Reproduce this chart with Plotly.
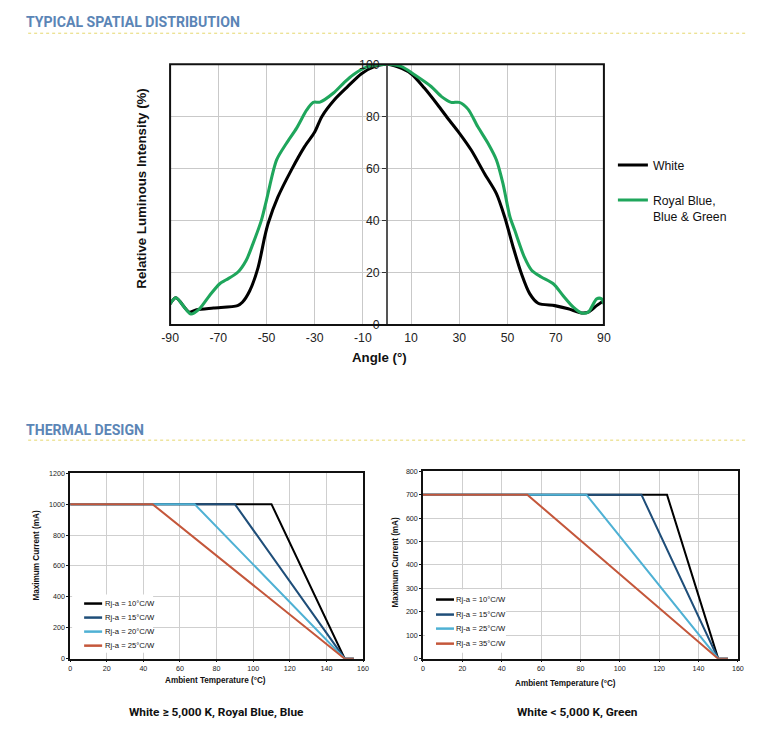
import plotly.graph_objects as go

# ---------------- data ----------------
white_angle = [-90, -87.6, -82, -79, -72, -62, -60, -57, -53.5, -50.7, -49.3, -45.3, -39.7, -34.2, -30, -27,
               -21.8, -16.25, -10.6, -5, 0, 4.4, 10, 15.5, 21, 25.2, 30, 35, 40.5, 45.4, 48.8, 52.3, 55.8,
               59.2, 62.7, 69.6, 75.2, 80.7, 83.5, 87, 90]
white_int = [8, 10.4, 4.9, 5.8, 6.5, 7.4, 8.7, 13, 22, 34, 39, 49, 59.4, 68.4, 74, 80,
             86.4, 91.5, 96.4, 99.2, 100, 99, 96.4, 90.9, 84.5, 79.3, 73.6, 67, 58, 50.4, 41.5, 30, 19.6,
             12, 8.3, 7.4, 6.2, 4.6, 4.9, 7.4, 9.4]

green_angle = [-90, -87.6, -81.4, -77.8, -73.6, -69.4, -66.7, -61.8, -58.4, -55.6, -52.1, -50, -45.8, -41.7,
               -37.5, -33.3, -30.6, -27.8, -22.2, -18, -14, -8.3, -3.8, 0, 5.8, 11.4, 18.3, 22.5, 26.6, 30,
               33.6, 37.7, 41.9, 45.4, 48.1, 51, 53, 57, 60, 64, 69, 73, 77.3, 80.7, 83.5, 87, 89, 90]
green_int = [8, 10.4, 4.2, 6.2, 11.3, 15.8, 17.3, 20.3, 24.8, 31.2, 40.2, 47.9, 63.3, 69.7,
             75.5, 82.5, 85.4, 85.5, 89, 92.8, 96, 99, 99.7, 100, 99.2, 96, 91.5, 87.7, 85.4, 85.4,
             82.8, 76, 69.7, 63.3, 54.3, 41.5, 36.3, 26, 21, 18.4, 15.8, 11.3, 6.8, 4.6, 4.9, 10, 10, 8]

angle_ticks = [-90, -70, -50, -30, -10, 10, 30, 50, 70, 90]
angle_tick_labels = ["-90", "-70", "-50", "-30", "-10", "10", "30", "50", "70", "90"]

spatial_names = ["White", "Royal Blue,<br>Blue & Green"]
spatial_colors = ["#000000", "#1fa65c"]

# thermal design, left (White >= 5,000 K, Royal Blue, Blue)
left_labels = ["Rj-a = 10°C/W", "Rj-a = 15°C/W", "Rj-a = 20°C/W", "Rj-a = 25°C/W"]
left_temp = [[0, 110, 150, 155], [0, 90, 150, 155], [0, 68, 150, 155], [0, 45, 150, 155]]
left_curr = [[1000, 1000, 0, 0]] * 4

# thermal design, right (White < 5,000 K, Green)
right_labels = ["Rj-a = 10°C/W", "Rj-a = 15°C/W", "Rj-a = 25°C/W", "Rj-a = 35°C/W"]
right_temp = [[0, 124, 150, 155], [0, 111, 150, 155], [0, 83, 150, 155], [0, 53, 150, 155]]
right_curr = [[700, 700, 0, 0]] * 4

thermal_colors = ["#000000", "#1f4e79", "#4fb1d4", "#c4573b"]

# figure size; the page adds its default 8px margin around it and the capture
# is fitted back to 779x732, so target positions are converted accordingly
W, H = 779, 732
PAGE_M = 8
SX = (W + 2 * PAGE_M) / W
SY = (H + 2 * PAGE_M) / H
K = SX  # font / stroke compensation
def px(x): return (x * SX - PAGE_M) / W
def py(y): return 1 - (y * SY - PAGE_M) / H
def fs(s): return round(s * K, 2)

fig = go.Figure()

# ---------------- top chart ----------------
for i, (xa, ya) in enumerate([(white_angle, white_int), (green_angle, green_int)]):
    fig.add_trace(go.Scatter(x=xa, y=ya, mode="lines", name=spatial_names[i],
                             line=dict(color=spatial_colors[i], width=3 * K, shape="spline", smoothing=0.8),
                             xaxis="x", yaxis="y", legend="legend", legendgroup=str(i)))

# ---------------- bottom charts ----------------
for i in range(4):
    fig.add_trace(go.Scatter(x=left_temp[i], y=left_curr[i], mode="lines", name=left_labels[i],
                             line=dict(color=thermal_colors[i], width=2 * K), xaxis="x2", yaxis="y2",
                             showlegend=False))
for i in range(4):
    fig.add_trace(go.Scatter(x=right_temp[i], y=right_curr[i], mode="lines", name=right_labels[i],
                             line=dict(color=thermal_colors[i], width=2 * K), xaxis="x3", yaxis="y3",
                             showlegend=False))

base_font = "Liberation Sans, Arial, sans-serif"
head_font = "Roboto, sans-serif"
cap_font = "Roboto, sans-serif"

small_axis = dict(showgrid=True, gridcolor="#cfcfcf", zeroline=False,
                  showline=True, mirror=True, linecolor="#111", linewidth=1.5,
                  ticks="outside", ticklen=2, tickcolor="#111", tickfont=dict(size=fs(7), color="#222"))

top_x0, top_x1 = px(169), px(603)
fig.update_layout(
    width=W, height=H, margin=dict(l=0, r=0, t=0, b=0), autosize=False,
    paper_bgcolor="white", plot_bgcolor="white",
    font=dict(family=base_font, color="#222"),
    xaxis=dict(domain=[top_x0, top_x1], range=[-90, 90], tickvals=angle_ticks, ticktext=angle_tick_labels,
               showgrid=True, gridcolor="#c9c9c9", gridwidth=1, zeroline=False,
               showline=False, ticks="", ticklabelstandoff=4,
               tickfont=dict(size=fs(12), color="#222"), anchor="y"),
    yaxis=dict(domain=[py(325), py(65)], range=[0, 100], dtick=20, anchor="free",
               position=(top_x0 + top_x1) / 2, side="left",
               showgrid=True, gridcolor="#c9c9c9", zeroline=False,
               showline=True, linecolor="#555", linewidth=2,
               ticks="outside", ticklen=4, tickcolor="#333",
               tickfont=dict(size=fs(12), color="#222")),
    xaxis2=dict(domain=[px(69), px(362)], range=[0, 160], dtick=20, anchor="y2", **small_axis),
    yaxis2=dict(domain=[py(658), py(473)], range=[0, 1200], dtick=200, anchor="x2", **small_axis),
    xaxis3=dict(domain=[px(422), px(737)], range=[0, 160], dtick=20, anchor="y3", **small_axis),
    yaxis3=dict(domain=[py(658), py(471)], range=[0, 800], dtick=100, anchor="x3", **small_axis),
    legend=dict(x=px(612), y=py(151), xanchor="left", yanchor="top", valign="top",
                font=dict(size=fs(12), color="#111"), tracegroupgap=16, bgcolor="rgba(0,0,0,0)",
                itemwidth=30),
    showlegend=True,
)

shapes = []
# top chart frame
shapes.append(dict(type="rect", xref="x domain", yref="y domain", x0=0, x1=1, y0=0, y1=1,
                   line=dict(color="#111", width=2), layer="above"))
# header dotted lines
for yy in [34, 440]:
    shapes.append(dict(type="line", xref="paper", yref="paper", x0=px(27), x1=px(745), y0=py(yy), y1=py(yy),
                       line=dict(color="#e5d76c", width=1, dash="dot")))

annotations = []
def ann(text, x, y, size, family=None, color="#111", bold=True, angle=0, xanchor="center"):
    f = dict(size=fs(size), color=color)
    if family:
        f["family"] = family
    if bold:
        f["weight"] = "bold"
    annotations.append(dict(text=text, xref="paper", yref="paper", x=px(x), y=py(y), textangle=angle,
                            xanchor=xanchor, yanchor="middle", showarrow=False, font=f))

ann("TYPICAL SPATIAL DISTRIBUTION", 23, 23, 13.8, head_font, "#5b85b6", xanchor="left")
ann("THERMAL DESIGN", 23, 430, 13.8, head_font, "#5b85b6", xanchor="left")
ann("Relative Luminous Intensity (%)", 140, 189, 13, angle=-90)
ann("Angle (°)", 378, 358, 13)
ann("Maximum Current (mA)", 35, 555, 8, angle=-90)
ann("Ambient Temperature (°C)", 214, 680, 8)
ann("Maximum Current (mA)", 394, 562, 8, angle=-90)
ann("Ambient Temperature (°C)", 565, 683, 8)
ann("White ≥ 5,000 K, Royal Blue, Blue", 215, 711, 11.6, cap_font)
ann("White < 5,000 K, Green", 577, 711, 11.6, cap_font)

# bottom legends (drawn as key boxes)
def small_legend(labels, box, line_x, text_x, rows):
    shapes.append(dict(type="rect", xref="paper", yref="paper", x0=px(box[0]), x1=px(box[1]),
                       y0=py(box[3]), y1=py(box[2]), fillcolor="white", line=dict(width=0), layer="above"))
    for lab, col, ry in zip(labels, thermal_colors, rows):
        shapes.append(dict(type="line", xref="paper", yref="paper", x0=px(line_x[0]), x1=px(line_x[1]),
                           y0=py(ry), y1=py(ry), line=dict(color=col, width=2.5), layer="above"))
        ann(lab, text_x, ry, 7.5, bold=False, xanchor="left")

small_legend(left_labels, (71, 152, 594, 652), (83, 101), 101.5, [603, 617, 631, 645])
small_legend(right_labels, (424, 505, 589, 652), (435, 453), 453.5, [599, 614, 628, 643])

fig.update_layout(shapes=shapes, annotations=annotations)
fig.write_html("out.html")
